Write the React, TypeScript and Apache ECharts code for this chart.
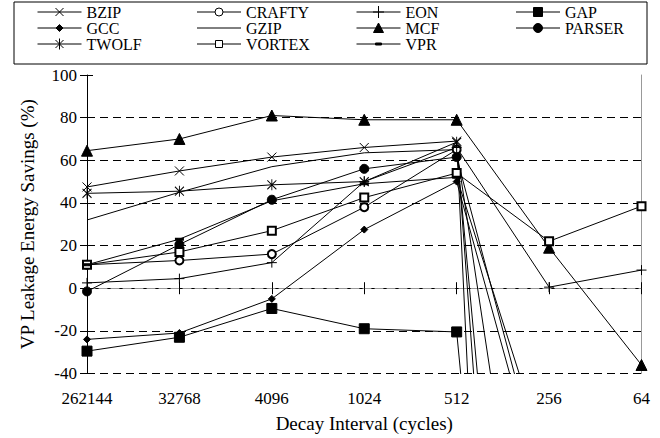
import { useEffect, useRef } from 'react';
import * as echarts from 'echarts';

const FONT = 'Liberation Serif';

const categories = ['262144', '32768', '4096', '1024', '512', '256', '64'];

const bzip = [47.5, 55, 61.5, 66, 69, -850, null];
const crafty = [11, 13, 16, 38, 65, -403, null];
const eon = [2.5, 4.5, 12, 50, 66, 0.5, 8.5];
const gap = [-29.5, -23, -9.5, -19, -20.5, -470, null];
const gcc = [-24, -21, -5, 27.5, 50, -107, null];
const gzip = [32, 45, 57, 63.5, 65, -222, null];
const mcf = [64.5, 70, 81, 79, 79, 19, -36];
const parser = [-1.5, 20.5, 41.5, 56, 61.5, -101, null];
const twolf = [44.5, 45.5, 48.5, 50, 68.5, -523, null];
const vortex = [11, 17, 27, 42.5, 54, 22, 38.5];
const vpr = [11, 23, 41, 49, 52, -84, null];

const Y_MIN = -40;
const Y_MAX = 100;
const Y_STEP = 20;

const seriesDefs = [
  { name: 'BZIP', data: bzip, symbol: 'path://M0,0L8,8M8,0L0,8', size: 9, fill: '#000',
    icon: 'path://M0,0M44,14M0,7L44,7M18,3L26,11M26,3L18,11' },
  { name: 'CRAFTY', data: crafty, symbol: 'emptyCircle', size: 8, fill: '#fff',
    icon: 'path://M0,0M44,14M0,7L18,7M26,7L44,7M26,7A4,4 0 1 1 18,7A4,4 0 1 1 26,7Z' },
  { name: 'EON', data: eon, symbol: 'path://M4,0L4,8M0,4L8,4', size: 10, fill: '#000',
    icon: 'path://M0,0M44,14M0,7L44,7M22,1L22,13M16.5,7L27.5,7' },
  { name: 'GAP', data: gap, symbol: 'rect', size: 10, fill: '#000',
    icon: 'path://M0,0M44,14M0,7L44,7M17.5,2.5L26.5,2.5L26.5,11.5L17.5,11.5Z' },
  { name: 'GCC', data: gcc, symbol: 'diamond', size: 7, fill: '#000',
    icon: 'path://M0,0M44,14M0,7L44,7M22,3.5L25.5,7L22,10.5L18.5,7Z' },
  { name: 'GZIP', data: gzip, symbol: 'none', size: 0, fill: '#000',
    icon: 'path://M0,0M44,14M0,7L44,7' },
  { name: 'MCF', data: mcf, symbol: 'triangle', size: 11, fill: '#000',
    icon: 'path://M0,0M44,14M0,7L44,7M22,2L27,11.5L17,11.5Z' },
  { name: 'PARSER', data: parser, symbol: 'circle', size: 9, fill: '#000',
    icon: 'path://M0,0M44,14M0,7L44,7M26.5,7A4.5,4.5 0 1 1 17.5,7A4.5,4.5 0 1 1 26.5,7Z' },
  { name: 'TWOLF', data: twolf, symbol: 'path://M0,1L8,9M8,1L0,9M4,0L4,10', size: [9, 11], fill: '#000',
    icon: 'path://M0,0M44,14M0,7L44,7M18,3L26,11M26,3L18,11M22,1.5L22,12.5' },
  { name: 'VORTEX', data: vortex, symbol: 'emptyRect', size: 8, fill: '#fff',
    icon: 'path://M0,0M44,14M0,7L18.5,7M25.5,7L44,7M18.5,3.5L25.5,3.5L25.5,10.5L18.5,10.5Z' },
  { name: 'VPR', data: vpr, symbol: 'rect', size: [6, 2], fill: '#000',
    icon: 'path://M0,0M44,14M0,7L44,7M19,6L25,6L25,8L19,8Z' },
];

export default function App() {
  const ref = useRef<HTMLDivElement>(null);

  useEffect(() => {
    if (!ref.current) return;
    const chart = echarts.init(ref.current, undefined, { renderer: 'svg' });

    const legendData = seriesDefs.map((s, i) => ({
      name: s.name,
      icon: s.icon,
      itemStyle: { color: s.fill, borderColor: '#000', borderWidth: 1 },
      textStyle: { width: i % 4 === 3 ? 70 : 110 },
    }));

    const series = seriesDefs.map((s) => ({
      name: s.name,
      type: 'line',
      data: s.data,
      xAxisIndex: 0,
      yAxisIndex: 0,
      symbol: s.symbol,
      symbolSize: s.size,
      showSymbol: s.symbol !== 'none',
      clip: true,
      connectNulls: false,
      lineStyle: { color: '#000', width: 1 },
      itemStyle: { color: '#000', borderColor: '#000', borderWidth: 1 },
      emphasis: { disabled: true },
    }));

    chart.setOption({
      animation: false,
      grid: { left: 87, right: 18.5, top: 75, bottom: 64.5 },
      legend: {
        data: legendData,
        orient: 'horizontal',
        left: 14,
        top: 2,
        width: 640,
        padding: [2, 12, 12, 23],
        borderColor: '#000',
        borderWidth: 1,
        itemWidth: 44,
        itemHeight: 14,
        itemGap: 0,
        selectedMode: false,
        textStyle: { fontFamily: FONT, fontSize: 16, lineHeight: 15, color: '#000' },
      },
      xAxis: [
        {
          type: 'category',
          data: categories,
          boundaryGap: false,
          position: 'bottom',
          axisLine: { show: true, lineStyle: { color: '#000', width: 1 } },
          axisTick: { show: true, length: 6, lineStyle: { color: '#000' } },
          axisLabel: { fontFamily: FONT, fontSize: 17, color: '#000', margin: 16 },
          splitLine: { show: false },
          name: 'Decay Interval (cycles)',
          nameLocation: 'middle',
          nameGap: 40,
          nameTextStyle: { fontFamily: FONT, fontSize: 19, color: '#000' },
        },
        {
          type: 'category',
          data: categories,
          boundaryGap: false,
          position: 'bottom',
          axisLine: { show: false },
          axisTick: { show: true, inside: true, length: 6, lineStyle: { color: '#000' } },
          axisLabel: { show: false },
          splitLine: { show: false },
        },
        {
          type: 'category',
          data: categories,
          boundaryGap: false,
          position: 'top',
          axisLine: { show: true, lineStyle: { color: '#999', width: 1, type: [8, 4] } },
          axisTick: { show: false },
          axisLabel: { show: false },
          splitLine: { show: false },
        },
      ],
      yAxis: [
        {
          type: 'value',
          min: Y_MIN,
          max: Y_MAX,
          interval: Y_STEP,
          position: 'left',
          axisLine: { show: true, lineStyle: { color: '#000', width: 1 } },
          axisTick: { show: true, length: 7, lineStyle: { color: '#000' } },
          axisLabel: { fontFamily: FONT, fontSize: 17, color: '#000', margin: 10 },
          splitLine: {
            show: true,
            showMaxLine: false,
            lineStyle: { color: '#000', width: 1, type: [8, 5] },
          },
          name: 'VP Leakage Energy Savings (%)',
          nameLocation: 'middle',
          nameGap: 50,
          nameTextStyle: { fontFamily: FONT, fontSize: 19, color: '#000' },
        },
        {
          type: 'value',
          min: Y_MIN,
          max: Y_MAX,
          interval: Y_STEP,
          position: 'left',
          axisLine: { show: false },
          axisTick: { show: true, inside: true, length: 6, lineStyle: { color: '#000' } },
          axisLabel: { show: false },
          splitLine: { show: false },
        },
        {
          type: 'value',
          min: Y_MIN,
          max: Y_MAX,
          interval: Y_STEP,
          position: 'right',
          axisLine: { show: true, lineStyle: { color: '#999', width: 1 } },
          axisTick: { show: false },
          axisLabel: { show: false },
          splitLine: { show: false },
        },
      ],
      series,
    });

    return () => chart.dispose();
  }, []);

  return (
    <div
      ref={ref}
      style={{ position: 'fixed', left: 0, top: 0, width: 660, height: 438, background: '#fff' }}
    />
  );
}
